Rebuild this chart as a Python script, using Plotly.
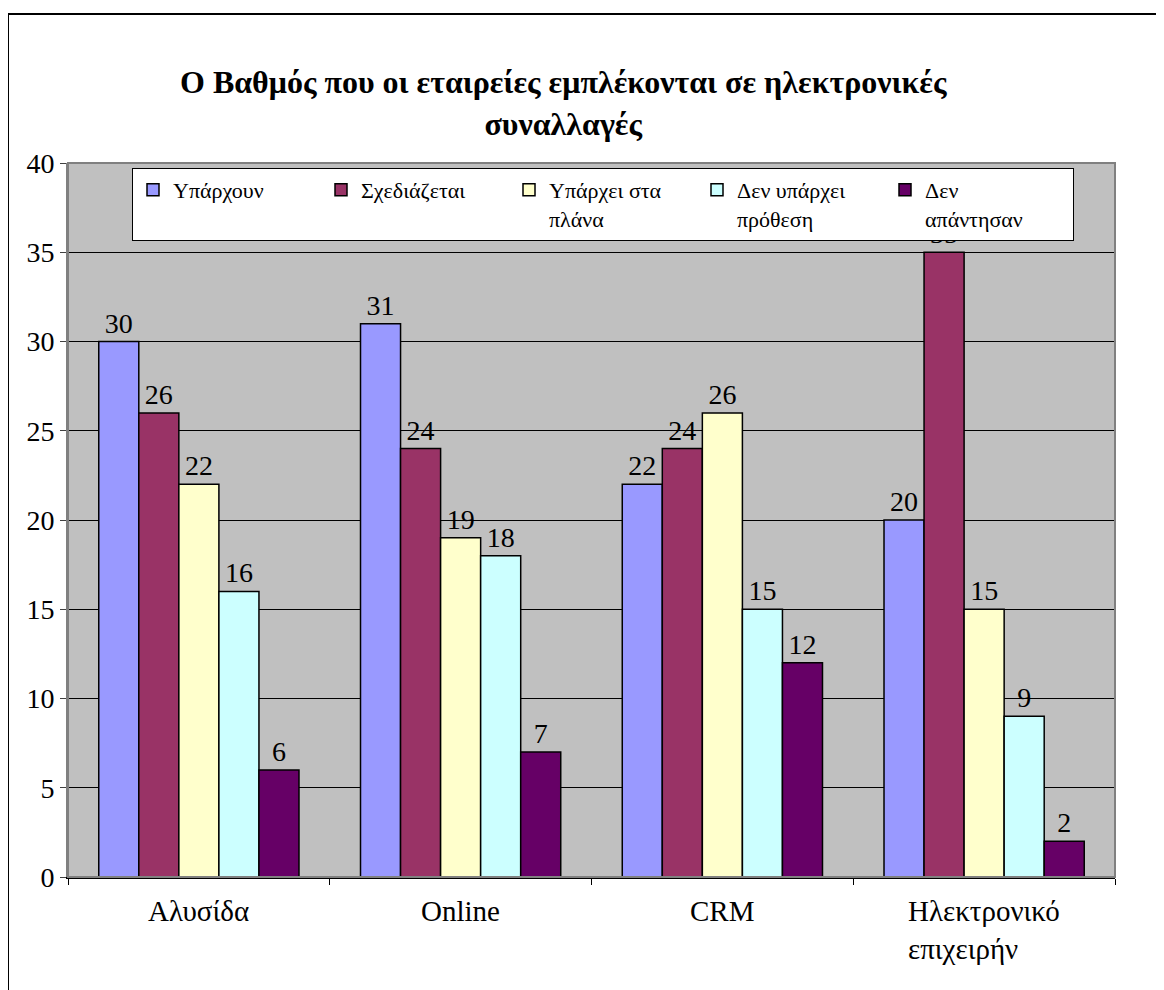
import plotly.graph_objects as go

# Data
categories = ["Αλυσίδα", "Online", "CRM", "Ηλεκτρονικό<br>επιχειρήν"]
series_names = [
    "Υπάρχουν",
    "Σχεδιάζεται",
    "Υπάρχει στα<br>πλάνα",
    "Δεν υπάρχει<br>πρόθεση",
    "Δεν<br>απάντησαν",
]
yparxoun = [30, 31, 22, 20]
sxediazetai = [26, 24, 24, 35]
sta_plana = [22, 19, 26, 15]
den_yparxei = [16, 18, 15, 9]
den_apantisan = [6, 7, 12, 2]
series_values = [yparxoun, sxediazetai, sta_plana, den_yparxei, den_apantisan]
colors = ["#9999FF", "#993366", "#FFFFCC", "#CCFFFF", "#660066"]
y_ticks = [0, 5, 10, 15, 20, 25, 30, 35, 40]

FONT = "Liberation Serif"

# the html page puts the figure 8px in from the top-left corner
OFF = 8
W, H = 1164, 990
L, R, T, B = 60, 57, 155, 121
pw, ph = W - L - R, H - T - B


def px_x(x):
    # screen pixel -> paper fraction
    return (x - OFF - L) / pw


def px_y(y):
    return (H - B - (y - OFF)) / ph


fig = go.Figure()

for name, vals, col in zip(series_names, series_values, colors):
    fig.add_trace(go.Bar(
        x=categories,
        y=vals,
        name=name,
        marker=dict(color=col, line=dict(color="black", width=1.5)),
        text=vals,
        textposition="outside",
        textfont=dict(family=FONT, size=28, color="black"),
        constraintext="none",
    ))

# category labels (left aligned like the original)
for cat in categories:
    fig.add_annotation(
        x=cat, xref="x", y=px_y(893), yref="paper",
        text=cat, showarrow=False, align="left",
        xanchor="center", yanchor="top",
        font=dict(family=FONT, size=29, color="black"),
    )

# title
fig.add_annotation(
    x=px_x(563), xref="paper", y=px_y(62), yref="paper",
    text="<b>Ο Βαθμός που οι εταιρείες εμπλέκονται σε ηλεκτρονικές<br>συναλλαγές</b>",
    showarrow=False, xanchor="center", yanchor="top",
    font=dict(family=FONT, size=32, color="black"),
)

# outer frame and plot-area border
fig.add_shape(type="rect", xref="paper", yref="paper",
              x0=px_x(8), x1=px_x(1200), y0=px_y(1020), y1=px_y(14),
              line=dict(color="black", width=2), layer="below")
fig.add_shape(type="rect", xref="paper", yref="paper",
              x0=0, x1=1, y0=0, y1=1,
              line=dict(color="#808080", width=2))

fig.update_layout(
    width=W, height=H,
    margin=dict(l=L, r=R, t=T, b=B),
    paper_bgcolor="white",
    plot_bgcolor="#C0C0C0",
    barmode="group",
    bargap=0.235,
    bargroupgap=0,
    font=dict(family=FONT, color="black"),
    showlegend=True,
    legend=dict(
        orientation="h",
        x=px_x(132), y=px_y(168),
        xanchor="left", yanchor="top",
        bgcolor="white",
        bordercolor="black", borderwidth=1,
        font=dict(family=FONT, size=22, color="black"),
        entrywidth=143, entrywidthmode="pixels",
        valign="top",
        traceorder="normal",
    ),
    xaxis=dict(
        showticklabels=False,
        ticks="outside", ticklen=6, tickcolor="black",
        tickson="boundaries",
        showline=True, linecolor="black", linewidth=2,
        showgrid=False,
    ),
    yaxis=dict(
        range=[0, 40],
        tickvals=y_ticks,
        ticks="outside", ticklen=6, tickcolor="#404040",
        tickfont=dict(family=FONT, size=28, color="black"),
        showgrid=True, gridcolor="black", gridwidth=1,
        showline=True, linecolor="#808080", linewidth=2,
        zeroline=False,
    ),
)

fig.write_html("out.html")
